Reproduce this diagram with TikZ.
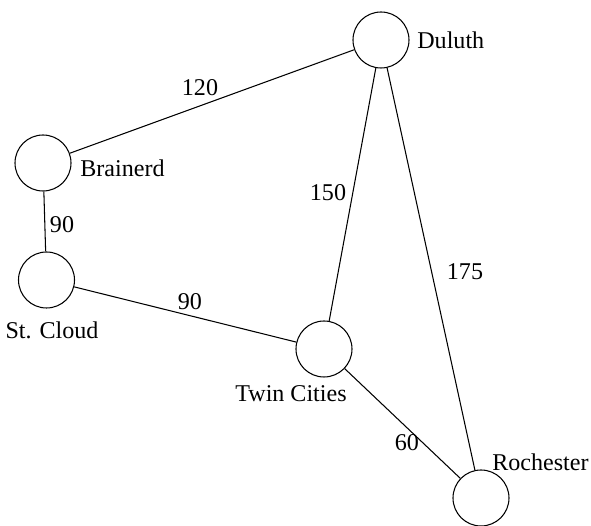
\documentclass[tikz,border=0pt]{standalone}
\usepackage{fontspec}
\setmainfont{Liberation Serif}
\usepackage{tikz}
\usepackage{xcolor}

\begin{document}
\begin{tikzpicture}[x=1cm,y=1cm,
  city/.style={draw,circle,minimum size=1.12cm,inner sep=0pt,line width=0.6pt},
  cityname/.style={inner sep=0pt,font=\fontsize{13.7}{16}\selectfont},
  dist/.style={inner sep=0pt,font=\fontsize{13.7}{16}\selectfont}]
\useasboundingbox (0,0) rectangle (11.82,-10.52);
% cities
\node[city] (duluth) at (7.62,-0.80) {};
\node[city] (brainerd) at (0.86,-3.26) {};
\node[city] (stcloud) at (0.93,-5.60) {};
\node[city] (twincities) at (6.48,-6.98) {};
\node[city] (rochester) at (9.62,-9.96) {};
\node[cityname,anchor=west] (duluthname) at (8.34,-0.80) {Duluth};
\node[cityname,anchor=west] (brainerdname) at (1.60,-3.36) {Brainerd};
\node[cityname] (stcloudname) at (1.04,-6.60) {St. Cloud};
\node[cityname] (twincitiesname) at (5.82,-7.88) {Twin Cities};
\node[cityname,anchor=west] (rochestername) at (9.84,-9.24) {Rochester};
% roads
\draw[line width=0.6pt] (brainerd) -- (duluth);
\draw[line width=0.6pt] (brainerd) -- (stcloud);
\draw[line width=0.6pt] (stcloud) -- (twincities);
\draw[line width=0.6pt] (twincities) -- (duluth);
\draw[line width=0.6pt] (duluth) -- (rochester);
\draw[line width=0.6pt] (twincities) -- (rochester);
% distances
\node[dist] (d120) at (4.00,-1.76) {120};
\node[dist] (d90a) at (1.24,-4.50) {90};
\node[dist] (d150) at (6.56,-3.86) {150};
\node[dist] (d175) at (9.30,-5.44) {175};
\node[dist] (d90b) at (3.80,-6.04) {90};
\node[dist] (d60) at (8.14,-8.86) {60};
\end{tikzpicture}
\end{document}
